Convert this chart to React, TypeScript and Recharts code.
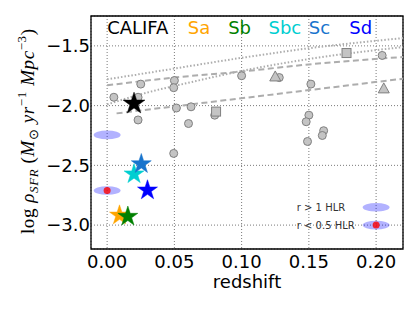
import React from 'react';
import {
  ComposedChart, XAxis, YAxis, CartesianGrid, Scatter, Line, ReferenceArea,
} from 'recharts';

// ---------- data ----------
const xTicks = [0, 0.05, 0.1, 0.15, 0.2];
const yTicks = [-3.0, -2.5, -2.0, -1.5];

const grayCircles = [
  { x: 0.005, y: -1.93 }, { x: 0.025, y: -1.82 }, { x: 0.023, y: -1.93 },
  { x: 0.023, y: -2.12 }, { x: 0.05, y: -1.79 }, { x: 0.0495, y: -1.85 },
  { x: 0.0515, y: -2.02 }, { x: 0.0624, y: -2.01 }, { x: 0.0605, y: -2.15 },
  { x: 0.0495, y: -2.40 }, { x: 0.08, y: -2.08 }, { x: 0.1, y: -1.75 },
  { x: 0.128, y: -1.765 }, { x: 0.1515, y: -1.82 }, { x: 0.15, y: -2.08 },
  { x: 0.148, y: -2.135 }, { x: 0.161, y: -2.21 }, { x: 0.16, y: -2.25 },
  { x: 0.149, y: -2.30 }, { x: 0.2045, y: -1.58 },
];
const graySquares = [{ x: 0.081, y: -2.05 }, { x: 0.178, y: -1.56 }];
const grayTriangles = [{ x: 0.125, y: -1.76 }, { x: 0.2057, y: -1.86 }];

const dottedLine1 = [
  { x: 0.0, y: -1.78 }, { x: 0.05, y: -1.69 }, { x: 0.1, y: -1.60 },
  { x: 0.15, y: -1.52 }, { x: 0.22, y: -1.435 },
];
const dottedLine2 = [
  { x: 0.0, y: -1.99 }, { x: 0.03, y: -1.89 }, { x: 0.06, y: -1.81 },
  { x: 0.1, y: -1.71 }, { x: 0.15, y: -1.61 }, { x: 0.22, y: -1.51 },
];
const dashedLine1 = [
  { x: 0.0, y: -1.83 }, { x: 0.05, y: -1.765 }, { x: 0.1, y: -1.715 },
  { x: 0.15, y: -1.655 }, { x: 0.22, y: -1.593 },
];
const dashedLine2 = [{ x: 0.007, y: -2.065 }, { x: 0.22, y: -1.775 }];

const typeNames = ['CALIFA', 'Sa', 'Sb', 'Sbc', 'Sc', 'Sd'];
const typeColors = ['#000000', '#ffa500', '#008000', '#00ced1', '#1874cd', '#0000ff'];
const typeLabelX = [0.0, 0.06, 0.09, 0.12, 0.15, 0.18];
const typeLabelY = -1.4;

const starX = [0.020, 0.0092, 0.0154, 0.020, 0.0254, 0.030];
const starY = [-1.975, -2.91, -2.92, -2.565, -2.48, -2.70];

const ellipses = [
  { x: 0.0, y: -2.245 }, { x: 0.0, y: -2.71 },
  { x: 0.2, y: -2.85 }, { x: 0.2, y: -3.0 },
];
const redDots = [{ x: 0.0, y: -2.71 }, { x: 0.2, y: -3.0 }];
const legendTexts = [
  { x: 0.141, y: -2.85, label: 'r > 1 HLR' },
  { x: 0.141, y: -3.0, label: 'r < 0.5 HLR' },
];

// ---------- derived ----------
const typeLabels = typeNames.map((n, i) => ({ x: typeLabelX[i], y: typeLabelY, label: n, color: typeColors[i] }));
const stars = typeNames.map((n, i) => ({ x: starX[i], y: starY[i], name: n, color: typeColors[i], big: i === 0 }));

const FONT = 'DejaVu Sans';
const GRAY_FILL = '#c4c4c4';
const GRAY_EDGE = '#808080';
const LINE_GRAY = '#adadad';

function starPath(cx: number, cy: number, R: number, r: number) {
  let d = '';
  for (let k = 0; k < 10; k++) {
    const ang = (-90 + k * 36) * Math.PI / 180;
    const rad = k % 2 === 0 ? R : r;
    d += (k === 0 ? 'M' : 'L') + (cx + rad * Math.cos(ang)).toFixed(2) + ',' + (cy + rad * Math.sin(ang)).toFixed(2);
  }
  return d + 'Z';
}

const CircleShape = (p: any) => <circle cx={p.cx} cy={p.cy} r={4} fill={GRAY_FILL} stroke={GRAY_EDGE} strokeWidth={1} />;
const SquareShape = (p: any) => <rect x={p.cx - 4.5} y={p.cy - 4.5} width={9} height={9} fill={GRAY_FILL} stroke={GRAY_EDGE} strokeWidth={1} />;
const TriangleShape = (p: any) => (
  <path d={`M${p.cx},${p.cy - 6}L${p.cx + 5.5},${p.cy + 4}L${p.cx - 5.5},${p.cy + 4}Z`} fill={GRAY_FILL} stroke={GRAY_EDGE} strokeWidth={1} />
);
const StarShape = (p: any) => {
  const R = p.payload.big ? 11.5 : 10.5;
  return <path d={starPath(p.cx, p.cy + 1, R, R * 0.382)} fill={p.payload.color} stroke={p.payload.color} strokeWidth={0.5} />;
};
const EllipseShape = (p: any) => <ellipse cx={p.cx} cy={p.cy} rx={13.5} ry={4.3} fill="#0000ff" fillOpacity={0.3} />;
const RedDotShape = (p: any) => <circle cx={p.cx} cy={p.cy} r={3.5} fill="#ff0000" fillOpacity={0.8} />;
const TypeLabelShape = (p: any) => (
  <text x={p.cx} y={p.cy} fill={p.payload.color} fontSize={18} fontFamily={FONT}>{p.payload.label}</text>
);
const LegendTextShape = (p: any) => (
  <text x={p.cx} y={p.cy} dy="0.36em" fill="#333333" fontSize={10} fontFamily={FONT}>{p.payload.label}</text>
);

const YLabel = (props: any) => {
  const vb = props.viewBox || { x: 0, y: 16, width: 91, height: 233 };
  const cx = 34;
  const cy = vb.y + vb.height / 2 - 1;
  return (
    <text
      x={cx}
      y={cy}
      transform={`rotate(-90, ${cx}, ${cy})`}
      textAnchor="middle"
      fontFamily="Liberation Serif"
      fontSize={19}
      fill="#000"
      textLength={205}
      lengthAdjust="spacing"
    >
      <tspan>log </tspan>
      <tspan fontStyle="italic">ρ</tspan>
      <tspan fontStyle="italic" fontSize={13} dy={4}>SFR</tspan>
      <tspan dy={-4}> (</tspan>
      <tspan fontStyle="italic">M</tspan>
      <tspan fontSize={13} dy={4}>⊙</tspan>
      <tspan fontStyle="italic" dy={-4}> yr</tspan>
      <tspan fontSize={13} dy={-8}>−1</tspan>
      <tspan fontStyle="italic" dy={8}> Mpc</tspan>
      <tspan fontSize={13} dy={-8}>−3</tspan>
      <tspan dy={8}>)</tspan>
    </text>
  );
};

const XLabel = (props: any) => {
  const vb = props.viewBox || { x: 91, y: 249, width: 312, height: 63 };
  return (
    <text x={vb.x + vb.width / 2} y={vb.y + 39} textAnchor="middle" fontFamily={FONT} fontSize={18} fill="#000">
      redshift
    </text>
  );
};

const fmtY = (v: number) => (v < 0 ? '\u2212' : '') + Math.abs(v).toFixed(1);
const fmtX = (v: number) => v.toFixed(2);

export default function App() {
  return (
    <div style={{ position: 'absolute', left: 0, top: 0, background: '#fff' }}>
      <ComposedChart width={415} height={312} margin={{ top: 16, right: 12, left: 0, bottom: 0 }}>
        <CartesianGrid stroke="#7a7a7a" strokeDasharray="1 2" strokeWidth={1} />
        <XAxis
          type="number"
          dataKey="x"
          domain={[-0.012, 0.22]}
          ticks={xTicks}
          tickFormatter={fmtX}
          allowDataOverflow
          axisLine={false}
          tickLine={false}
          tickSize={0}
          tickMargin={6}
          height={63}
          tick={{ fontSize: 18, fontFamily: FONT, fill: '#000' }}
          label={<XLabel />}
        />
        <YAxis
          type="number"
          dataKey="y"
          domain={[-3.2, -1.25]}
          ticks={yTicks}
          tickFormatter={fmtY}
          allowDataOverflow
          axisLine={false}
          tickLine={false}
          tickSize={0}
          tickMargin={1}
          width={91}
          tick={{ fontSize: 18, fontFamily: FONT, fill: '#000' }}
          label={<YLabel />}
        />
        <Line data={dottedLine1} dataKey="y" type="monotone" stroke={LINE_GRAY} strokeWidth={2} strokeDasharray="1.5 2" dot={false} activeDot={false} isAnimationActive={false} />
        <Line data={dottedLine2} dataKey="y" type="monotone" stroke={LINE_GRAY} strokeWidth={2} strokeDasharray="1.5 2" dot={false} activeDot={false} isAnimationActive={false} />
        <Line data={dashedLine1} dataKey="y" type="monotone" stroke={LINE_GRAY} strokeWidth={2} strokeDasharray="6 3.5" dot={false} activeDot={false} isAnimationActive={false} />
        <Line data={dashedLine2} dataKey="y" type="linear" stroke={LINE_GRAY} strokeWidth={2} strokeDasharray="6 3.5" dot={false} activeDot={false} isAnimationActive={false} />
        <Scatter data={grayCircles} shape={CircleShape} isAnimationActive={false} />
        <Scatter data={graySquares} shape={SquareShape} isAnimationActive={false} />
        <Scatter data={grayTriangles} shape={TriangleShape} isAnimationActive={false} />
        <Scatter data={ellipses} shape={EllipseShape} isAnimationActive={false} />
        <Scatter data={redDots} shape={RedDotShape} isAnimationActive={false} />
        <Scatter data={stars} shape={StarShape} isAnimationActive={false} />
        <Scatter data={typeLabels} shape={TypeLabelShape} isAnimationActive={false} />
        <Scatter data={legendTexts} shape={LegendTextShape} isAnimationActive={false} />
        <ReferenceArea x1={-0.012} x2={0.22} y1={-3.2} y2={-1.25} fill="none" stroke="#000" strokeWidth={1.3} ifOverflow="visible" />
      </ComposedChart>
    </div>
  );
}
